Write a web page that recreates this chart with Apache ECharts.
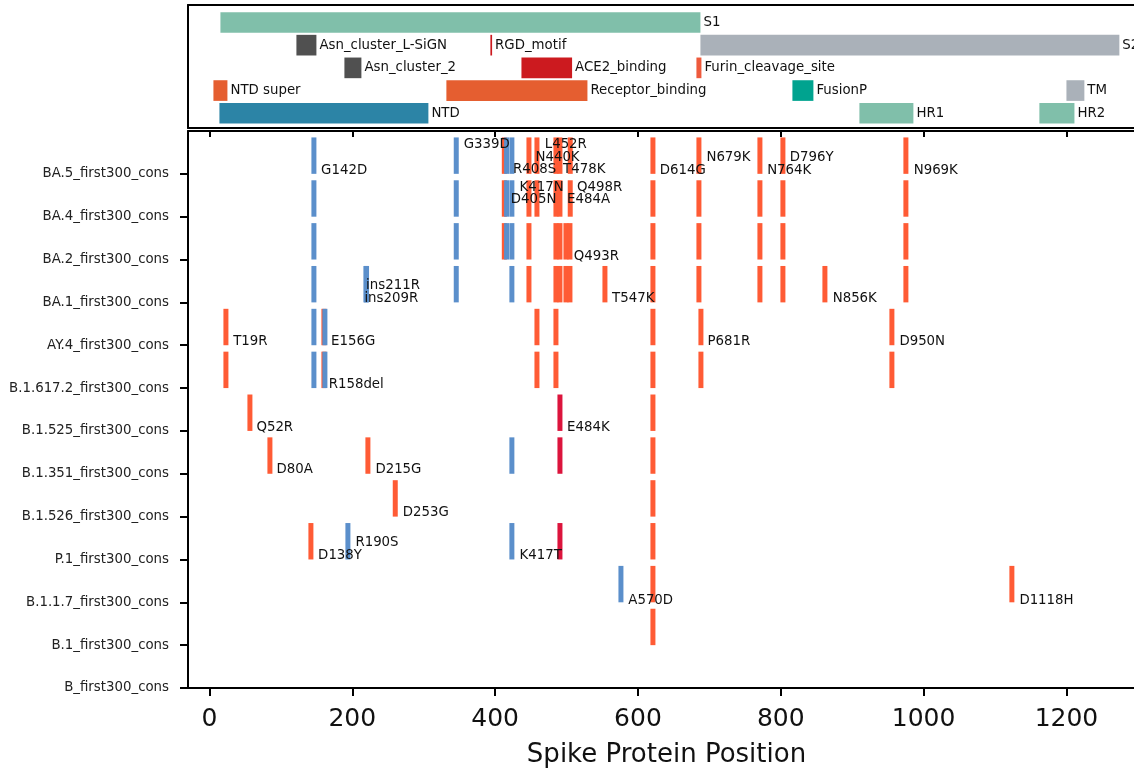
<!DOCTYPE html>
<html>
<head>
<meta charset="utf-8">
<script src="https://cdn.jsdelivr.net/npm/echarts@6/dist/echarts.min.js"></script>
<style>
html, body { margin: 0; padding: 0; background: #fff; overflow: hidden; }
#chart { width: 1160px; height: 771px; }
</style>
</head>
<body>
<div id="chart"></div>
<script>
// rows, bottom (0) to top (12)
const rows = ['B_first300_cons', 'B.1_first300_cons', 'B.1.1.7_first300_cons', 'P.1_first300_cons',
  'B.1.526_first300_cons', 'B.1.351_first300_cons', 'B.1.525_first300_cons', 'B.1.617.2_first300_cons',
  'AY.4_first300_cons', 'BA.1_first300_cons', 'BA.2_first300_cons', 'BA.4_first300_cons', 'BA.5_first300_cons'];

const xTicks = [0, 200, 400, 600, 800, 1000, 1200];

// spike domains: name, start, end, lane (0 = bottom lane)
const domainNames = ['S1', 'Asn_cluster_L-SiGN', 'RGD_motif', 'S2', 'Asn_cluster_2', 'ACE2_binding',
  'Furin_cleavage_site', 'NTD super', 'Receptor_binding', 'FusionP', 'TM', 'NTD', 'HR1', 'HR2'];
const domainStart = [15.4, 121.8, 393.4, 687.5, 189, 436.9, 681.9, 5.6, 331.8, 816.3, 1200, 14, 910.1, 1162.1];
const domainEnd = [687.5, 149.8, 395.8, 1274.1, 212.8, 507.8, 688.9, 25.2, 529.3, 845.7, 1225.1, 306.6, 985.7, 1211.2];
const domainLane = [4, 3, 3, 3, 2, 2, 2, 1, 1, 1, 1, 0, 0, 0];

// mutation bars: [position, row]
const redBars = [
  [617.5, 1],
  [617.5, 2], [1120.1, 2],
  [138.6, 3], [617.5, 3],
  [256.7, 4], [617.5, 4],
  [81.2, 5], [218.4, 5], [617.5, 5],
  [53.2, 6], [617.5, 6],
  [19.6, 7], [156.8, 7], [455.1, 7], [481.7, 7], [617.5, 7], [684.7, 7], [952.1, 7],
  [19.6, 8], [156.8, 8], [455.1, 8], [481.7, 8], [617.5, 8], [684.7, 8], [952.1, 8],
  [443.9, 9], [481.7, 9], [487.3, 9], [495.7, 9], [501.3, 9], [550.3, 9], [617.5, 9], [681.9, 9], [767.3, 9], [799.5, 9], [858.3, 9], [971.7, 9],
  [409.4, 10], [443.9, 10], [481.7, 10], [487.3, 10], [495.7, 10], [501.3, 10], [617.5, 10], [681.9, 10], [767.3, 10], [799.5, 10], [971.7, 10],
  [409.4, 11], [443.9, 11], [455.1, 11], [481.7, 11], [487.3, 11], [501.7, 11], [617.5, 11], [681.9, 11], [767.3, 11], [799.5, 11], [971.7, 11],
  [409.4, 12], [443.9, 12], [455.1, 12], [481.7, 12], [487.3, 12], [501.7, 12], [617.5, 12], [681.9, 12], [767.3, 12], [799.5, 12], [971.7, 12]
];
const crimsonBars = [[487.3, 3], [487.3, 5], [487.3, 6]];
const blueBars = [
  [572.7, 2],
  [190.4, 3], [420.0, 3],
  [420.0, 5],
  [142.8, 7], [158.2, 7],
  [142.8, 8], [158.2, 8],
  [142.8, 9], [215.6, 9], [216.5, 9], [342.1, 9], [420.0, 9],
  [142.8, 10], [342.1, 10], [412.6, 10], [420.0, 10],
  [142.8, 11], [342.1, 11], [412.6, 11], [420.0, 11],
  [142.8, 12], [342.1, 12], [412.6, 12], [420.0, 12]
];

// mutation labels: text, x, y (data units)
const mutLabels = [
  ['G142D', 156.4, 12.08], ['G339D', 356.1, 12.69], ['L452R', 469.5, 12.69], ['N440K', 456.5, 12.39],
  ['R408S', 425.2, 12.09], ['T478K', 495.2, 12.09], ['D614G', 630.5, 12.08], ['N679K', 695.9, 12.38],
  ['N764K', 780.9, 12.08], ['D796Y', 812.5, 12.38], ['N969K', 986.1, 12.08],
  ['K417N', 434.1, 11.68], ['Q498R', 514.8, 11.68], ['D405N', 421.9, 11.39], ['E484A', 500.8, 11.39],
  ['Q493R', 510.1, 10.08],
  ['ins211R', 219.4, 9.40], ['ins209R', 217.0, 9.09], ['T547K', 563.8, 9.09], ['N856K', 872.7, 9.09],
  ['T19R', 33.2, 8.08], ['E156G', 170.4, 8.08], ['P681R', 697.3, 8.09], ['D950N', 966.1, 8.09],
  ['R158del', 167.0, 7.09],
  ['Q52R', 65.8, 6.09], ['E484K', 500.8, 6.09],
  ['D80A', 93.8, 5.09], ['D215G', 232.4, 5.09],
  ['D253G', 270.7, 4.09],
  ['R190S', 204.4, 3.39], ['D138Y', 152.2, 3.09], ['K417T', 434.1, 3.09],
  ['A570D', 586.5, 2.04], ['D1118H', 1134.1, 2.04]
];

const domainColors = {
  'S1': '#80bfaa', 'HR1': '#80bfaa', 'HR2': '#80bfaa',
  'S2': '#aab1b9', 'TM': '#aab1b9',
  'Asn_cluster_L-SiGN': '#505050', 'Asn_cluster_2': '#505050',
  'RGD_motif': '#cc1a1f', 'ACE2_binding': '#cc1a1f',
  'Furin_cleavage_site': '#ee5a3c',
  'NTD super': '#e55e30', 'Receptor_binding': '#e55e30',
  'FusionP': '#00a38f',
  'NTD': '#2c84a6'
};

const FONT = 'DejaVu Sans';
const SMALL = '13.33px "' + FONT + '"';
const BAR_W = 7;      // bar width in position units
const BAR_H = 0.85;   // bar height in row units
const LANE_H = 0.91;

// plot area runs past the right edge of the window, like the source figure
const GRID_W = 957;

function frameAxis(grid, pos) {
  return {
    type: 'value', gridIndex: grid, position: pos, min: -30, max: 1310,
    axisLine: { show: true, onZero: false, lineStyle: { color: '#000', width: 2 } },
    axisTick: { show: false }, axisLabel: { show: false }, splitLine: { show: false }
  };
}

function barSeries(data, color) {
  return {
    type: 'custom', xAxisIndex: 2, yAxisIndex: 1, data: data, clip: false,
    renderItem: function (params, api) {
      const p0 = api.coord([api.value(0), api.value(1)]);
      const p1 = api.coord([api.value(0) + BAR_W, api.value(1) + BAR_H]);
      return {
        type: 'rect',
        shape: { x: p0[0], y: p1[1], width: p1[0] - p0[0], height: p0[1] - p1[1] },
        style: { fill: color }
      };
    }
  };
}

const xBottom = frameAxis(1, 'bottom');
xBottom.axisTick = { show: true, length: 8, lineStyle: { color: '#000', width: 2 }, customValues: xTicks };
xBottom.axisLabel = { show: true, customValues: xTicks, fontSize: 25, fontFamily: FONT, color: '#111', margin: 19,
  formatter: function (v) { return String(v); } };
xBottom.name = 'Spike Protein Position';
xBottom.nameLocation = 'middle';
xBottom.nameGap = 54;
xBottom.nameTextStyle = { fontSize: 26, fontFamily: FONT, color: '#111' };

const xTop = frameAxis(1, 'top');
xTop.axisTick = { show: true, inside: true, length: 6, lineStyle: { color: '#000', width: 2 }, customValues: xTicks };

const chart = echarts.init(document.getElementById('chart'));
chart.setOption({
  animation: false,
  backgroundColor: '#fff',
  grid: [
    { left: 188, width: GRID_W, top: 5, height: 123, outerBoundsMode: 'none' },
    { left: 188, width: GRID_W, top: 131, height: 557, outerBoundsMode: 'none' }
  ],
  xAxis: [frameAxis(0, 'bottom'), frameAxis(0, 'top'), xBottom, xTop],
  yAxis: [
    {
      type: 'value', gridIndex: 0, min: -0.65, max: 4.77,
      axisLine: { show: true, onZero: false, lineStyle: { color: '#000', width: 2 } },
      axisTick: { show: false }, axisLabel: { show: false }, splitLine: { show: false }
    },
    {
      type: 'value', gridIndex: 1, min: 0, max: 13,
      axisLine: { show: true, onZero: false, lineStyle: { color: '#000', width: 2 } },
      axisTick: { show: true, length: 8, lineStyle: { color: '#000', width: 2 },
        customValues: rows.map((r, i) => i) },
      axisLabel: { show: true, customValues: rows.map((r, i) => i), margin: 19,
        fontSize: 13.33, fontFamily: FONT, color: '#222',
        formatter: function (v) { return rows[v]; } },
      splitLine: { show: false }
    }
  ],
  series: [
    {
      type: 'custom', xAxisIndex: 0, yAxisIndex: 0, clip: false,
      data: domainNames.map((n, i) => [domainStart[i], domainEnd[i], domainLane[i]]),
      renderItem: function (params, api) {
        const name = domainNames[params.dataIndex];
        const s = api.coord([api.value(0), api.value(2) + LANE_H / 2]);
        const e = api.coord([api.value(1), api.value(2) - LANE_H / 2]);
        return {
          type: 'group',
          children: [
            { type: 'rect', shape: { x: s[0], y: s[1], width: e[0] - s[0], height: e[1] - s[1] },
              style: { fill: domainColors[name] } },
            { type: 'text', x: e[0] + 3, y: (s[1] + e[1]) / 2,
              style: { text: name, fill: '#111', font: SMALL, align: 'left', verticalAlign: 'middle' } }
          ]
        };
      }
    },
    barSeries(redBars, '#ff5b35'),
    barSeries(crimsonBars, '#dc143c'),
    barSeries(blueBars, '#5b8fcb'),
    {
      type: 'custom', xAxisIndex: 2, yAxisIndex: 1, clip: false, z: 5,
      data: mutLabels.map(l => [l[1], l[2]]),
      renderItem: function (params, api) {
        const p = api.coord([api.value(0), api.value(1)]);
        return {
          type: 'text', x: p[0], y: p[1],
          style: { text: mutLabels[params.dataIndex][0], fill: '#111', font: SMALL,
            align: 'left', verticalAlign: 'middle' }
        };
      }
    }
  ]
});
</script>
</body>
</html>
